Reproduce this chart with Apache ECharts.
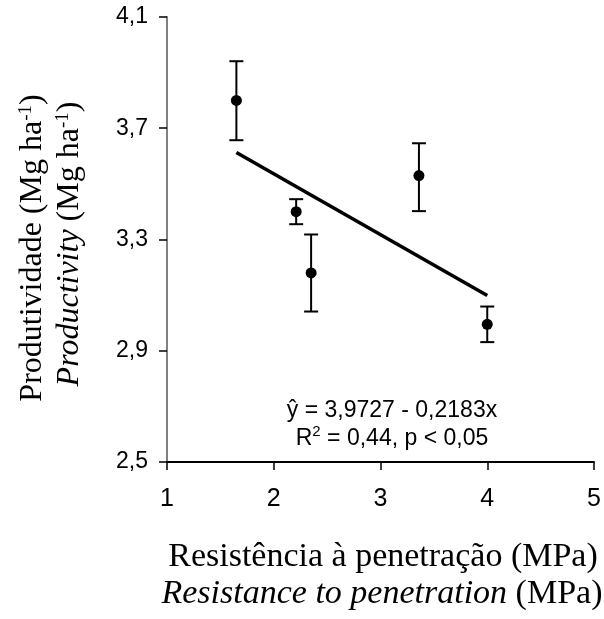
<!DOCTYPE html>
<html>
<head>
<meta charset="utf-8">
<script src="https://cdn.jsdelivr.net/npm/echarts@6/dist/echarts.min.js"></script>
<style>html,body{margin:0;padding:0;background:#fff;}#c{width:604px;height:619px;}</style>
</head>
<body>
<div id="c"></div>
<script>
// Data
const xValues = [1.65, 2.21, 2.35, 3.36, 4.0];
const yValues = [3.80, 3.40, 3.18, 3.53, 2.995];
const yLower  = [3.657, 3.355, 3.041, 3.402, 2.931];
const yUpper  = [3.941, 3.445, 3.318, 3.646, 3.059];
const fitLine = [[1.65, 3.613], [4.0, 3.099]];
const xTicks = [1, 2, 3, 4, 5];
const yTicks = ['2,5', '2,9', '3,3', '3,7', '4,1'];
const eqLine1 = 'ŷ = 3,9727 - 0,2183x';
const eqLine2 = 'R{sup|2} = 0,44, p < 0,05';

const points = xValues.map((x, i) => [x, yValues[i]]);
const bars = xValues.map((x, i) => [x, yLower[i], yUpper[i]]);

const chart = echarts.init(document.getElementById('c'));
chart.setOption({
  animation: false,
  backgroundColor: '#fff',
  grid: { left: 167, right: 10, top: 17, bottom: 157, containLabel: false },
  xAxis: {
    type: 'value', min: 1, max: 5, interval: 1,
    axisLine: { show: true, lineStyle: { color: '#000', width: 2 } },
    axisTick: { show: true, length: 8, lineStyle: { color: '#000', width: 1.5 } },
    axisLabel: { fontFamily: 'Liberation Sans', fontSize: 25, color: '#000', margin: 25,
      formatter: v => xTicks.includes(v) ? String(v) : '' },
    splitLine: { show: false }
  },
  yAxis: {
    type: 'value', min: 2.5, max: 4.1, interval: 0.4,
    axisLine: { show: true, onZero: false, lineStyle: { color: '#808080', width: 2 } },
    axisTick: { show: true, length: 8, lineStyle: { color: '#000', width: 1.5 } },
    axisLabel: { fontFamily: 'Liberation Sans', fontSize: 23, color: '#000', margin: 19,
      formatter: v => { const idx = Math.round((v - 2.5) / 0.4); return yTicks[idx] || ''; } },
    splitLine: { show: false }
  },
  series: [
    {
      type: 'line', data: fitLine, symbol: 'none',
      lineStyle: { color: '#000', width: 3.5 }, z: 2
    },
    {
      type: 'custom', data: bars, z: 3,
      renderItem: function (params, api) {
        const x = api.value(0);
        const lo = api.coord([x, api.value(1)]);
        const hi = api.coord([x, api.value(2)]);
        const cap = 7;
        const style = { stroke: '#000', lineWidth: 2 };
        return { type: 'group', children: [
          { type: 'line', shape: { x1: lo[0], y1: lo[1], x2: hi[0], y2: hi[1] }, style },
          { type: 'line', shape: { x1: lo[0] - cap, y1: lo[1], x2: lo[0] + cap, y2: lo[1] }, style },
          { type: 'line', shape: { x1: hi[0] - cap, y1: hi[1], x2: hi[0] + cap, y2: hi[1] }, style }
        ]};
      }
    },
    {
      type: 'scatter', data: points, symbol: 'circle', symbolSize: 11,
      itemStyle: { color: '#000', opacity: 1 }, z: 4
    }
  ],
  graphic: [
    { type: 'text', x: 392, y: 411, style: { text: eqLine1, font: '23px "Liberation Sans", Arial', fill: '#000', align: 'center', verticalAlign: 'middle' } },
    { type: 'text', x: 392, y: 439, style: { text: eqLine2, font: '23px "Liberation Sans", Arial', fill: '#000', align: 'center', verticalAlign: 'middle',
        rich: { sup: { fontSize: 15, fontFamily: 'Liberation Sans', verticalAlign: 'top', padding: [0,0,14,0] } } } },
    { type: 'text', x: 383, y: 557, style: { text: 'Resistência à penetração (MPa)', font: '34px "Liberation Serif", "Times New Roman"', fill: '#000', align: 'center', verticalAlign: 'middle' } },
    { type: 'text', x: 382, y: 594, style: { text: '{i|Resistance to penetration} (MPa)', font: '34px "Liberation Serif", "Times New Roman"', fill: '#000', align: 'center', verticalAlign: 'middle',
        rich: { i: { fontStyle: 'italic', fontSize: 34, fontFamily: 'Liberation Serif' } } } },
    { type: 'text', x: 33, y: 248, rotation: Math.PI / 2, style: { text: 'Produtividade (Mg ha{sup|-1})', font: '32px "Liberation Serif", "Times New Roman"', fill: '#000', align: 'center', verticalAlign: 'middle',
        rich: { sup: { fontSize: 19, fontFamily: 'Liberation Serif', verticalAlign: 'top', padding: [0,0,12,0] } } } },
    { type: 'text', x: 70, y: 244, rotation: Math.PI / 2, style: { text: '{i|Productivity} (Mg ha{sup|-1})', font: '32px "Liberation Serif", "Times New Roman"', fill: '#000', align: 'center', verticalAlign: 'middle',
        rich: { i: { fontStyle: 'italic', fontSize: 32, fontFamily: 'Liberation Serif' }, sup: { fontSize: 19, fontFamily: 'Liberation Serif', verticalAlign: 'top', padding: [0,0,12,0] } } } }
  ]
});
</script>
</body>
</html>
